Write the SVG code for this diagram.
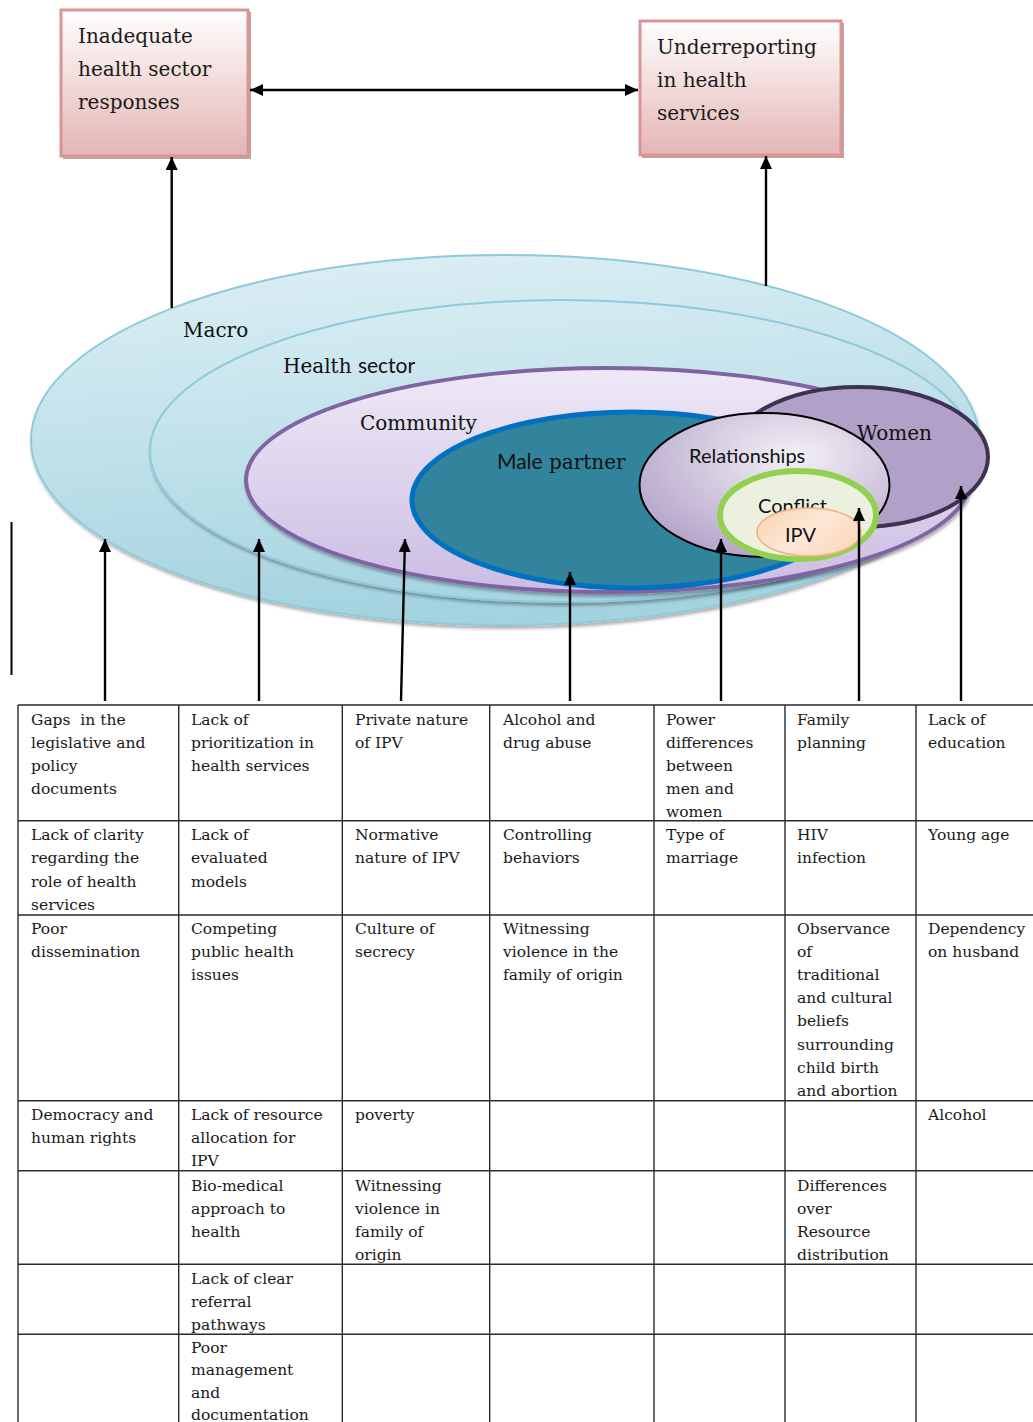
<svg xmlns="http://www.w3.org/2000/svg" width="1033" height="1422" viewBox="0 0 1033 1422">
  <style>
    .box { stroke: #d99594; stroke-width: 3; fill: url(#boxFill); }
    .boxShadow { fill: #a98484; opacity: 0.75; }
    .boxText { font-family: "DejaVu Serif", "Liberation Serif", serif; font-size: 20px; fill: #1a1a1a; }
    .lbl { font-family: "DejaVu Serif", "Liberation Serif", serif; font-size: 20px; fill: #111; }
    .sans { font-family: Lato, "Liberation Sans", sans-serif; }
    .conn { stroke: #000; stroke-width: 2.4; fill: none; }
    .grid { stroke: #2a2a2a; stroke-width: 1.4; fill: none; }
    .cell { font-family: "DejaVu Serif", "Liberation Serif", serif; font-size: 15.5px; fill: #1a1a1a; }
  </style>
  <defs>
    <linearGradient id="boxFill" x1="0" y1="0" x2="0" y2="1">
      <stop offset="0" stop-color="#ffffff"/>
      <stop offset="1" stop-color="#e4b5b4"/>
    </linearGradient>
    <linearGradient id="macroFill" x1="0" y1="0" x2="0.2" y2="1">
      <stop offset="0" stop-color="#dff0f5"/>
      <stop offset="1" stop-color="#a4d3e0"/>
    </linearGradient>
    <linearGradient id="healthFill" x1="0" y1="0" x2="0.2" y2="1">
      <stop offset="0" stop-color="#d9edf3"/>
      <stop offset="1" stop-color="#a7d5e1"/>
    </linearGradient>
    <linearGradient id="commFill" x1="0" y1="0" x2="0" y2="1">
      <stop offset="0" stop-color="#eee9f6"/>
      <stop offset="1" stop-color="#cbbde3"/>
    </linearGradient>
    <radialGradient id="relFill" cx="0.62" cy="0.3" r="0.75">
      <stop offset="0" stop-color="#f3f0f6"/>
      <stop offset="1" stop-color="#b4a4c9"/>
    </radialGradient>
    <linearGradient id="ipvFill" x1="0" y1="0" x2="1" y2="0.6">
      <stop offset="0" stop-color="#fad0ab"/>
      <stop offset="0.55" stop-color="#fde8d7"/>
      <stop offset="1" stop-color="#fbd9bf"/>
    </linearGradient>
    <filter id="sh" x="-10%" y="-10%" width="120%" height="130%">
      <feDropShadow dx="1" dy="3" stdDeviation="1.5" flood-color="#000" flood-opacity="0.3"/>
    </filter>
    <marker id="ah" viewBox="0 0 13 12" refX="13" refY="6" markerWidth="13" markerHeight="12" orient="auto-start-reverse" markerUnits="userSpaceOnUse">
      <path d="M0,0 L13,6 L0,12 z" fill="#000"/>
    </marker>
  </defs>

  <!-- outcome boxes -->
  <g id="inadequate-responses">
    <rect class="boxShadow" x="63" y="12" width="188" height="147"/>
    <rect class="box" x="61" y="10" width="187" height="146"/>
    <text class="boxText"><tspan x="78" y="43">Inadequate</tspan><tspan x="78" y="76">health sector</tspan><tspan x="78" y="109">responses</tspan></text>
  </g>
  <g id="underreporting">
    <rect class="boxShadow" x="642" y="23" width="202" height="135"/>
    <rect class="box" x="640" y="21" width="201" height="134"/>
    <text class="boxText"><tspan x="657" y="54">Underreporting</tspan><tspan x="657" y="87">in health</tspan><tspan x="657" y="120">services</tspan></text>
  </g>

  <!-- nested ecological levels -->
  <g id="macro">
    <ellipse cx="505" cy="440" rx="474" ry="185" fill="url(#macroFill)" stroke="#8fcadb" stroke-width="2" filter="url(#sh)"/>
    <text class="lbl" x="183" y="337">Macro</text>
  </g>
  <g id="health-sector">
    <ellipse cx="562" cy="451" rx="412" ry="151" fill="url(#healthFill)" stroke="#8fcadb" stroke-width="2" filter="url(#sh)"/>
    <text class="lbl" x="283" y="373">Health <tspan class="sans" font-size="21">sector</tspan></text>
  </g>
  <g id="community">
    <ellipse cx="608" cy="480" rx="362" ry="112" fill="url(#commFill)" stroke="#8064a2" stroke-width="4" filter="url(#sh)"/>
    <text class="lbl" x="360" y="430">Community</text>
  </g>
  <g id="male-partner">
    <ellipse cx="632" cy="500" rx="220" ry="88" fill="#31849b" stroke="#0070c0" stroke-width="5"/>
    <text class="lbl" x="497" y="469"><tspan class="sans" font-size="21">Male</tspan> partner</text>
  </g>
  <g id="women">
    <ellipse cx="858" cy="457" rx="130" ry="70" fill="#b1a0c7" stroke="#3f3151" stroke-width="4"/>
    <text class="lbl" x="857" y="440">Women</text>
  </g>
  <g id="relationships">
    <ellipse cx="764.5" cy="485" rx="125" ry="72" fill="url(#relFill)" stroke="#000" stroke-width="2"/>
    <text class="lbl sans" x="689" y="463" font-size="22">Relationships</text>
  </g>
  <g id="conflict">
    <ellipse cx="798" cy="515" rx="78" ry="44" fill="#ebf1de" stroke="#92d050" stroke-width="6"/>
    <text class="lbl sans" x="758" y="513" font-size="20">Conflict</text>
  </g>
  <g id="ipv">
    <ellipse cx="809" cy="532" rx="52" ry="24" fill="url(#ipvFill)" stroke="#f5b07f" stroke-width="1.5"/>
    <text class="lbl sans" x="785" y="542" font-size="19">IPV</text>
  </g>

  <!-- connectors -->
  <g id="connectors">
    <line class="conn" x1="250" y1="90" x2="638" y2="90" marker-start="url(#ah)" marker-end="url(#ah)"/>
    <line class="conn" x1="171.7" y1="308" x2="171.7" y2="157" marker-end="url(#ah)"/>
    <line class="conn" x1="766" y1="286" x2="766" y2="156" marker-end="url(#ah)"/>
    <line class="conn" x1="105" y1="701" x2="105" y2="539" marker-end="url(#ah)"/>
    <line class="conn" x1="259" y1="701" x2="259" y2="539" marker-end="url(#ah)"/>
    <line class="conn" x1="401" y1="701" x2="405" y2="539" marker-end="url(#ah)"/>
    <line class="conn" x1="570" y1="701" x2="570" y2="572" marker-end="url(#ah)"/>
    <line class="conn" x1="721" y1="701" x2="721" y2="539" marker-end="url(#ah)"/>
    <line class="conn" x1="859" y1="701" x2="859" y2="508" marker-end="url(#ah)"/>
    <line class="conn" x1="961" y1="701" x2="961" y2="486" marker-end="url(#ah)"/>
    <line x1="11.5" y1="522" x2="11.5" y2="675" stroke="#000" stroke-width="2"/>
  </g>

  <!-- factor table -->
  <g id="factor-table">
    <path class="grid" d="M18,705 H1033 M18,820.7 H1033 M18,915 H1033 M18,1100.7 H1033 M18,1170.7 H1033 M18,1264.3 H1033 M18,1334.3 H1033
      M18,705 V1422 M178.7,705 V1422 M342.3,705 V1422 M489.7,705 V1422 M654,705 V1422 M785,705 V1422 M916,705 V1422"/>

    <!-- row 1 -->
    <text class="cell"><tspan x="31" y="724.5">Gaps&#160; in the</tspan><tspan x="31" dy="23.2">legislative and</tspan><tspan x="31" dy="23.2">policy</tspan><tspan x="31" dy="23.2">documents</tspan></text>
    <text class="cell"><tspan x="191" y="724.5">Lack of</tspan><tspan x="191" dy="23.2">prioritization in</tspan><tspan x="191" dy="23.2">health services</tspan></text>
    <text class="cell"><tspan x="355" y="724.5">Private nature</tspan><tspan x="355" dy="23.2">of IPV</tspan></text>
    <text class="cell"><tspan x="503" y="724.5">Alcohol and</tspan><tspan x="503" dy="23.2">drug abuse</tspan></text>
    <text class="cell"><tspan x="666" y="724.5">Power</tspan><tspan x="666" dy="23.2">differences</tspan><tspan x="666" dy="23.2">between</tspan><tspan x="666" dy="23.2">men and</tspan><tspan x="666" dy="23.2">women</tspan></text>
    <text class="cell"><tspan x="797" y="724.5">Family</tspan><tspan x="797" dy="23.2">planning</tspan></text>
    <text class="cell"><tspan x="928" y="724.5">Lack of</tspan><tspan x="928" dy="23.2">education</tspan></text>

    <!-- row 2 -->
    <text class="cell"><tspan x="31" y="840.2">Lack of clarity</tspan><tspan x="31" dy="23.2">regarding the</tspan><tspan x="31" dy="23.2">role of health</tspan><tspan x="31" dy="23.2">services</tspan></text>
    <text class="cell"><tspan x="191" y="840.2">Lack of</tspan><tspan x="191" dy="23.2">evaluated</tspan><tspan x="191" dy="23.2">models</tspan></text>
    <text class="cell"><tspan x="355" y="840.2">Normative</tspan><tspan x="355" dy="23.2">nature of IPV</tspan></text>
    <text class="cell"><tspan x="503" y="840.2">Controlling</tspan><tspan x="503" dy="23.2">behaviors</tspan></text>
    <text class="cell"><tspan x="666" y="840.2">Type of</tspan><tspan x="666" dy="23.2">marriage</tspan></text>
    <text class="cell"><tspan x="797" y="840.2">HIV</tspan><tspan x="797" dy="23.2">infection</tspan></text>
    <text class="cell"><tspan x="928" y="840.2">Young age</tspan></text>

    <!-- row 3 -->
    <text class="cell"><tspan x="31" y="933.5">Poor</tspan><tspan x="31" dy="23.2">dissemination</tspan></text>
    <text class="cell"><tspan x="191" y="933.5">Competing</tspan><tspan x="191" dy="23.2">public health</tspan><tspan x="191" dy="23.2">issues</tspan></text>
    <text class="cell"><tspan x="355" y="933.5">Culture of</tspan><tspan x="355" dy="23.2">secrecy</tspan></text>
    <text class="cell"><tspan x="503" y="933.5">Witnessing</tspan><tspan x="503" dy="23.2">violence in the</tspan><tspan x="503" dy="23.2">family of origin</tspan></text>
    <text class="cell"><tspan x="797" y="933.5">Observance</tspan><tspan x="797" dy="23.2">of</tspan><tspan x="797" dy="23.2">traditional</tspan><tspan x="797" dy="23.2">and cultural</tspan><tspan x="797" dy="23.2">beliefs</tspan><tspan x="797" dy="23.2">surrounding</tspan><tspan x="797" dy="23.2">child birth</tspan><tspan x="797" dy="23.2">and abortion</tspan></text>
    <text class="cell"><tspan x="928" y="933.5">Dependency</tspan><tspan x="928" dy="23.2">on husband</tspan></text>

    <!-- row 4 -->
    <text class="cell"><tspan x="31" y="1120">Democracy and</tspan><tspan x="31" dy="23.2">human rights</tspan></text>
    <text class="cell"><tspan x="191" y="1120">Lack of resource</tspan><tspan x="191" dy="23.2">allocation for</tspan><tspan x="191" dy="23.2">IPV</tspan></text>
    <text class="cell"><tspan x="355" y="1120">poverty</tspan></text>
    <text class="cell"><tspan x="928" y="1120">Alcohol</tspan></text>

    <!-- row 5 -->
    <text class="cell"><tspan x="191" y="1190.5">Bio-medical</tspan><tspan x="191" dy="23">approach to</tspan><tspan x="191" dy="23">health</tspan></text>
    <text class="cell"><tspan x="355" y="1190.5">Witnessing</tspan><tspan x="355" dy="23">violence in</tspan><tspan x="355" dy="23">family of</tspan><tspan x="355" dy="23">origin</tspan></text>
    <text class="cell"><tspan x="797" y="1190.5">Differences</tspan><tspan x="797" dy="23">over</tspan><tspan x="797" dy="23">Resource</tspan><tspan x="797" dy="23">distribution</tspan></text>

    <!-- row 6 -->
    <text class="cell"><tspan x="191" y="1283.5">Lack of clear</tspan><tspan x="191" dy="23">referral</tspan><tspan x="191" dy="23">pathways</tspan></text>

    <!-- row 7 -->
    <text class="cell"><tspan x="191" y="1352.5">Poor</tspan><tspan x="191" dy="22.5">management</tspan><tspan x="191" dy="22.5">and</tspan><tspan x="191" dy="22.5">documentation</tspan></text>
  </g>
</svg>
